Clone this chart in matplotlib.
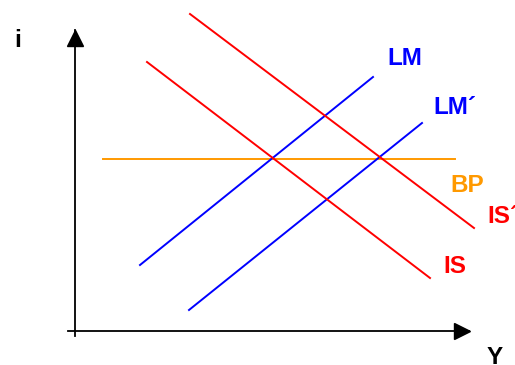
import matplotlib.pyplot as plt

plt.rcParams['font.family'] = ['Liberation Sans', 'DejaVu Sans']

# line end points (x0, y0, x1, y1) in picture units, y going down
axis_y = [75, 336, 75, 30]
axis_x = [68, 331, 469, 331]
bp = [103, 159, 455, 159]
lm = [140, 265, 373, 77]
lm2 = [189, 310, 422, 123]
is1 = [147, 62, 430, 278]
is2 = [190, 14, 474, 228]

labels = ['i', 'LM', 'LM\u00b4', 'BP', 'IS\u00b4', 'IS', 'Y']
label_x = [14, 387, 433, 450, 487, 443, 487]
label_y = [47, 65, 114, 192, 223, 273, 364]
label_c = ['black', '#0000FF', '#0000FF', '#FF9900', '#FF0000', '#FF0000', 'black']

fig = plt.figure(figsize=(5.15, 3.65), dpi=100)
ax = fig.add_axes([0, 0, 1, 1])
ax.set_xlim(0, 515)
ax.set_ylim(365, 0)
ax.axis('off')

ax.plot(axis_y[0::2], axis_y[1::2], color='black', lw=1.3)
ax.plot(axis_x[0::2], axis_x[1::2], color='black', lw=1.3)
# arrow heads
ax.plot(axis_y[2], axis_y[3] + 7.5, marker='^', ms=11, color='black')
ax.plot(axis_x[2] - 7.5, axis_x[3], marker='>', ms=11, color='black')

ax.plot(bp[0::2], bp[1::2], color='#FF9900', lw=1.4)
for ln in (lm, lm2):
    ax.plot(ln[0::2], ln[1::2], color='#0000FF', lw=1.4)
for ln in (is1, is2):
    ax.plot(ln[0::2], ln[1::2], color='#FF0000', lw=1.4)

for t, x, y, c in zip(labels, label_x, label_y, label_c):
    ax.text(x, y, t, color=c, fontsize=17.5, fontweight='bold',
            ha='left', va='baseline')

fig.savefig('out.png', dpi=100)
